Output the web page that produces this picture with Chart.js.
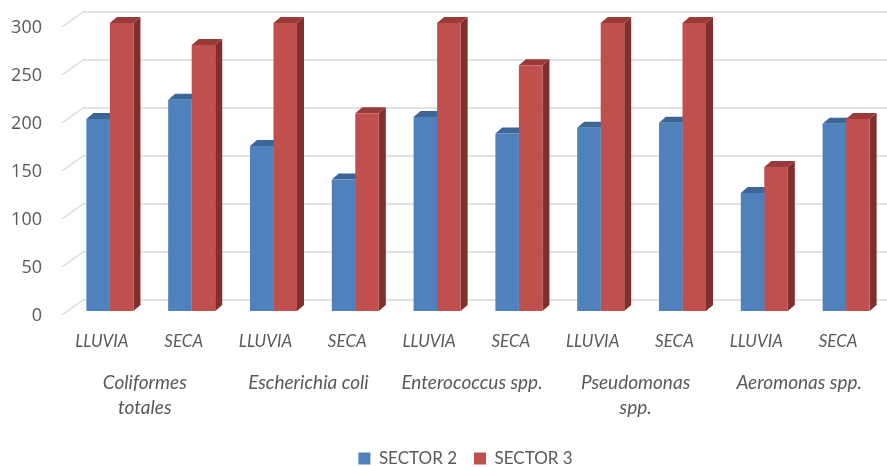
<!DOCTYPE html>
<html>
<head>
<meta charset="utf-8">
<script src="https://cdn.jsdelivr.net/npm/chart.js@4.4.0/dist/chart.umd.min.js"></script>
<style>
html, body { margin: 0; padding: 0; background: #fff; }
#wrap { width: 887px; height: 467px; }
</style>
</head>
<body>
<div id="wrap"><canvas id="barChart"></canvas></div>
<script>
const categories = ['LLUVIA', 'SECA', 'LLUVIA', 'SECA', 'LLUVIA', 'SECA', 'LLUVIA', 'SECA', 'LLUVIA', 'SECA'];
const groups = [['Coliformes', 'totales'], 'Escherichia coli', 'Enterococcus spp.', ['Pseudomonas', 'spp.'], 'Aeromonas spp.'];
const sector2 = [200, 220, 172, 137, 202, 185, 191, 196, 123, 195];
const sector3 = [300, 277, 300, 206, 300, 256, 300, 300, 150, 200];
const yTicks = [0, 50, 100, 150, 200, 250, 300];

const FONT = 'Lato, "Open Sans", sans-serif';

// faux 3D: back grid plane + side/top faces of the bars
const shades = [
    { side: '#3b6391', top: '#3d6596' },
    { side: '#7f2f2d', top: '#9b3b39' },
];

const depth3d = {
    id: 'depth3d',
    afterLayout(chart) {
        // legend sits a bit right of centre in the original
        chart.legend.left += 22;
        chart.legend.right += 22;
    },
    beforeDatasetsDraw(chart) {
        const ctx = chart.ctx;
        const y = chart.scales.y;
        const area = chart.chartArea;
        ctx.save();
        ctx.strokeStyle = '#d9d9d9';
        ctx.lineWidth = 1.5;
        yTicks.forEach(function (v) {
            const py = y.getPixelForValue(v);
            ctx.beginPath();
            ctx.moveTo(area.left - 7, py + 4);
            ctx.lineTo(area.left + 14, py - 11);
            ctx.lineTo(chart.width, py - 11);
            ctx.stroke();
        });
        const dx = 7, dy = 6;
        chart.data.datasets.forEach(function (ds, i) {
            const meta = chart.getDatasetMeta(i);
            meta.data.forEach(function (bar) {
                const p = bar.getProps(['x', 'y', 'base', 'width'], true);
                const l = p.x - p.width / 2, r = p.x + p.width / 2;
                ctx.fillStyle = shades[i].side;
                ctx.beginPath();
                ctx.moveTo(r, p.y);
                ctx.lineTo(r + dx, p.y - dy);
                ctx.lineTo(r + dx, p.base - dy);
                ctx.lineTo(r, p.base);
                ctx.closePath();
                ctx.fill();
                ctx.fillStyle = shades[i].top;
                ctx.beginPath();
                ctx.moveTo(l, p.y);
                ctx.lineTo(l + dx, p.y - dy);
                ctx.lineTo(r + dx, p.y - dy);
                ctx.lineTo(r, p.y);
                ctx.closePath();
                ctx.fill();
            });
        });
        ctx.restore();
    }
};

const ctx = document.getElementById('barChart').getContext('2d');

const data = {
    labels: categories,
    datasets: [
        { label: 'SECTOR 2', data: sector2, backgroundColor: '#4f81bd' },
        { label: 'SECTOR 3', data: sector3, backgroundColor: '#c0504d' },
    ],
};

const config = {
    type: 'bar',
    data: data,
    plugins: [depth3d],
    options: {
        responsive: true,
        maintainAspectRatio: false,
        animation: false,
        categoryPercentage: 0.575,
        barPercentage: 1,
        layout: { padding: { top: 23, right: 0, left: 0, bottom: 0 } },
        plugins: {
            tooltip: { enabled: false },
            legend: {
                position: 'bottom',
                maxHeight: 34,
                labels: {
                    boxWidth: 12,
                    boxHeight: 12,
                    padding: 17,
                    color: '#595959',
                    font: { family: FONT, size: 17 },
                },
            },
        },
        scales: {
            x: {
                afterFit: function (scale) { scale.height = 41; },
                grid: { display: false, drawTicks: false },
                border: { display: false },
                ticks: {
                    color: '#595959',
                    padding: 20,
                    labelOffset: -8,
                    maxRotation: 0,
                    autoSkip: false,
                    font: { family: FONT, size: 17, style: 'italic' },
                },
            },
            x2: {
                type: 'category',
                labels: groups,
                position: 'bottom',
                afterFit: function (scale) { scale.height = 81; },
                grid: { display: false, drawTicks: false },
                border: { display: false },
                ticks: {
                    color: '#595959',
                    padding: 18,
                    labelOffset: -6,
                    maxRotation: 0,
                    autoSkip: false,
                    font: { family: FONT, size: 19, style: 'italic', lineHeight: 1.32 },
                },
            },
            y: {
                min: 0,
                max: 300,
                afterFit: function (scale) {
                    scale.width = 69;
                    scale.paddingTop = 0;
                    scale.paddingBottom = 0;
                },
                grid: { display: false, drawTicks: false },
                border: { display: false },
                ticks: {
                    stepSize: 50,
                    padding: 27,
                    labelOffset: 5,
                    color: '#595959',
                    font: { family: '"Open Sans", sans-serif', size: 18 },
                },
            },
        },
    },
};

const myChart = new Chart(ctx, config);
</script>
</body>
</html>
